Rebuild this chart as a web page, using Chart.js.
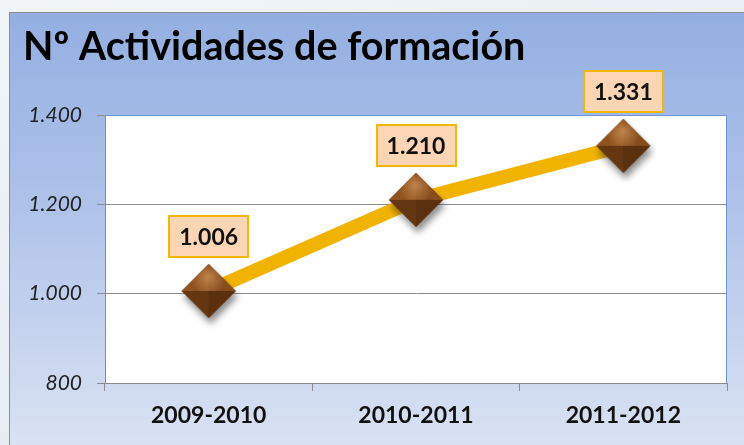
<!DOCTYPE html>
<html>
<head>
<meta charset="utf-8">
<script src="https://cdn.jsdelivr.net/npm/chart.js@4"></script>
<style>
html, body { margin: 0; padding: 0; width: 744px; height: 445px; overflow: hidden; background: linear-gradient(160deg, #f1f5f8, #dfe8f0); }
#box { position: absolute; left: 9px; top: 12px; width: 760px; height: 460px; border: 1px solid #8e8e8e; background: linear-gradient(to bottom, #93afe1 0%, #b1c4ea 45%, #dfe6f3 100%); }
#wrap { position: absolute; left: 0; top: 0; width: 744px; height: 445px; }
</style>
</head>
<body>
<div id="box"></div>
<div id="wrap"><canvas id="mychart"></canvas></div>
<script>
var cursos = ['2009-2010', '2010-2011', '2011-2012'];
var actividades = [1006, 1210, 1331];
var yTicks = [800, 1000, 1200, 1400];

function miles(v) {
    return String(v).replace(/\B(?=(\d{3})+(?!\d))/g, '.');
}

// diamante marron con aspecto 3D
function makeDiamond() {
    var r = 27, pad = 12;
    var c = document.createElement('canvas');
    c.width = c.height = 2 * r + 2 * pad;
    var g = c.getContext('2d');
    var cx = r + pad, cy = r + pad;
    var top = [cx, cy - r], right = [cx + r, cy], bottom = [cx, cy + r], left = [cx - r, cy];

    function rombo() {
        g.beginPath();
        g.moveTo(top[0], top[1]); g.lineTo(right[0], right[1]); g.lineTo(bottom[0], bottom[1]); g.lineTo(left[0], left[1]);
        g.closePath();
    }

    g.save();
    g.shadowColor = 'rgba(0,0,0,0.45)';
    g.shadowBlur = 7;
    g.shadowOffsetX = 2;
    g.shadowOffsetY = 6;
    rombo();
    g.fillStyle = '#6b3a12';
    g.fill();
    g.restore();

    var caras = [
        [top, left, '#8f531f'],
        [top, right, '#864c1c'],
        [bottom, left, '#643611'],
        [bottom, right, '#5a300e']
    ];
    caras.forEach(function(f) {
        g.beginPath();
        g.moveTo(f[0][0], f[0][1]);
        g.lineTo(f[1][0], f[1][1]);
        g.lineTo(cx, cy);
        g.closePath();
        g.fillStyle = f[2];
        g.fill();
    });
    // brillo superior
    var grd = g.createRadialGradient(cx, cy - r * 0.55, 1, cx, cy - r * 0.4, r * 0.6);
    grd.addColorStop(0, 'rgba(230,170,110,0.55)');
    grd.addColorStop(1, 'rgba(230,170,110,0)');
    g.save();
    rombo();
    g.clip();
    g.fillStyle = grd;
    g.fillRect(0, 0, c.width, cy);
    g.restore();
    return c;
}

var fondoPlot = {
    id: 'fondoPlot',
    beforeDraw: function(chart) {
        var a = chart.chartArea, ctx = chart.ctx;
        ctx.save();
        ctx.fillStyle = '#ffffff';
        ctx.fillRect(a.left, a.top, a.right - a.left, a.bottom - a.top);
        ctx.restore();
    },
    beforeDatasetsDraw: function(chart) {
        var a = chart.chartArea, ctx = chart.ctx;
        ctx.save();
        ctx.strokeStyle = '#6f95d4';
        ctx.lineWidth = 1;
        ctx.beginPath();
        ctx.moveTo(a.left, a.top + 0.5);
        ctx.lineTo(a.right - 0.5, a.top + 0.5);
        ctx.lineTo(a.right - 0.5, a.bottom);
        ctx.stroke();
        ctx.restore();
    }
};

var etiquetas = {
    id: 'etiquetas',
    afterDatasetsDraw: function(chart) {
        var ctx = chart.ctx;
        var meta = chart.getDatasetMeta(0);
        ctx.save();
        ctx.font = 'bold 23px Lato';
        meta.data.forEach(function(pt, i) {
            var txt = miles(actividades[i]);
            var w = Math.round(ctx.measureText(txt).width) + 20, h = 41;
            var x = Math.round(pt.x - w / 2), y = Math.round(pt.y - 54 - h / 2);
            ctx.fillStyle = '#fcd5b4';
            ctx.fillRect(x, y, w, h);
            ctx.lineWidth = 2;
            ctx.strokeStyle = '#f2b705';
            ctx.strokeRect(x, y, w, h);
            ctx.fillStyle = '#111111';
            ctx.textAlign = 'center';
            ctx.textBaseline = 'middle';
            ctx.fillText(txt, pt.x, y + h / 2 + 1);
        });
        ctx.restore();
    }
};

var config = {
    type: 'line',
    data: {
        labels: cursos,
        datasets: [{
            data: actividades,
            borderColor: '#f0b400',
            borderWidth: 14,
            tension: 0,
            fill: false,
            pointStyle: makeDiamond(),
            pointRadius: 27,
            clip: false
        }]
    },
    options: {
        responsive: true,
        maintainAspectRatio: false,
        animation: false,
        layout: { autoPadding: false, padding: { left: 23, right: 17, top: 0, bottom: 0 } },
        plugins: {
            legend: { display: false },
            tooltip: { enabled: false },
            title: {
                display: true,
                text: 'Nº Actividades de formación',
                align: 'start',
                color: '#000000',
                font: { family: 'Lato', size: 39.5, weight: 'bold', lineHeight: 1.2 },
                padding: { top: 24, bottom: 43.6 }
            }
        },
        scales: {
            x: {
                offset: true,
                afterFit: function(s) { s.height = 62; },
                grid: { offset: true, drawOnChartArea: false, tickLength: 8, color: '#8c8c8c' },
                border: { color: '#8c8c8c' },
                ticks: { color: '#111111', padding: 11, font: { family: 'Lato', size: 23, weight: 'bold' } }
            },
            y: {
                min: yTicks[0],
                max: yTicks[yTicks.length - 1],
                afterFit: function(s) { s.width = 82; },
                afterBuildTicks: function(s) { s.ticks = yTicks.map(function(v) { return { value: v }; }); },
                grid: { color: '#8c8c8c', tickLength: 8 },
                border: { color: '#8c8c8c' },
                ticks: {
                    color: '#222222',
                    padding: 15,
                    font: { family: 'Lato', size: 21, style: 'italic' },
                    callback: function(v) { return miles(v); }
                }
            }
        }
    },
    plugins: [fondoPlot, etiquetas]
};

var ctx = document.getElementById('mychart').getContext('2d');
window.myLine = new Chart(ctx, config);
</script>
</body>
</html>
